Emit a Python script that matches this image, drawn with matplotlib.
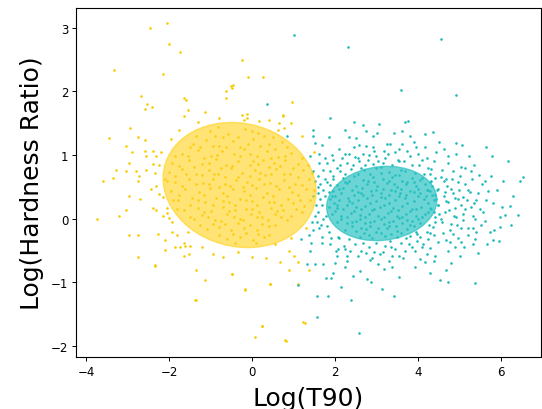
import numpy as np
import matplotlib.pyplot as plt
from matplotlib.patches import Ellipse

# (Log T90, Log hardness ratio)
short_pts = [
    # outliers / halo
    (-2.47, 3.00), (-2.06, 3.08), (-2.01, 2.74), (-1.73, 2.62), (-3.33, 2.34), (-2.14, 2.27),
    (-2.69, 1.93), (-2.54, 1.81), (-2.41, 1.76), (-2.58, 1.72), (-1.65, 1.90), (-1.59, 1.86),
    (-1.54, 1.71), (-1.65, 1.62), (-1.13, 1.68), (-0.79, 1.58), (-0.63, 2.01), (-0.50, 2.08),
    (-0.63, 1.90), (-2.94, 1.42), (-3.45, 1.27), (-2.75, 1.28), (-2.58, 1.23), (-3.04, 1.15),
    (-2.89, 1.05), (-2.59, 1.06), (-2.57, 0.99), (-2.39, 1.07), (-2.31, 0.98), (-2.96, 0.87),
    (-2.38, 0.86), (-3.29, 0.77), (-3.04, 0.75), (-2.81, 0.75), (-2.55, 0.76), (-2.33, 0.72),
    (-3.60, 0.59), (-2.72, 0.67), (-3.36, 0.64), (-3.73, 0.00), (-3.22, 0.04), (-3.04, 0.13),
    (-2.98, -0.25), (-2.75, -0.25), (-2.74, -0.60), (-2.34, -0.73), (-1.35, -1.27), (-0.17, -1.12),
    (0.07, -1.86), (0.24, -1.69), (0.43, -1.02), (-2.75, 0.59), (-2.97, 0.36), (-2.70, 0.31),
    (-2.43, 0.46), (-2.31, 0.51), (-2.25, 0.39), (-2.14, 0.34), (-2.38, 0.17), (-2.31, 0.14),
    (-2.06, 0.17), (-2.06, 0.09), (-2.01, 0.01), (-1.93, -0.05), (-2.27, -0.24), (-2.09, -0.33),
    (-1.94, -0.20), (-1.86, -0.44), (-1.73, -0.44), (-1.65, -0.38), (-1.62, -0.43), (-1.49, -0.43),
    (-2.10, -0.49), (-1.64, -0.59), (-1.53, -0.56), (-2.33, -0.74), (-1.35, -0.80), (-1.13, -0.96),
    (-1.37, -1.27), (-0.48, -0.86), (-0.33, -0.52), (-0.01, -0.60), (0.34, -0.61), (0.67, -0.68),
    (0.88, -0.50), (1.12, -0.68), (1.01, -0.58), (0.90, -0.80), (1.38, -0.80), (-0.49, -0.86),
    (-0.17, -1.11), (0.43, -1.03), (1.12, -1.02), (1.24, -1.62), (0.80, -1.91), (0.24, -1.68),
    (1.28, -1.64), (0.82, -1.92), (-0.25, 2.50), (-0.09, 2.23), (0.26, 2.22), (-0.45, 2.10),
    (-0.49, 2.06), (0.96, 1.84), (-0.25, 1.63), (-0.11, 1.65), (-0.11, 1.58), (0.17, 1.54),
    (0.74, 1.63), (0.66, 1.51), (0.77, 1.43), (0.63, 1.40), (0.75, 1.62),
    (-2.20, 1.05), (-2.10, 0.62), (-2.25, 0.85), (-1.95, 1.25), (-1.75, 1.40), (-1.30, 1.52),
    (-2.15, 0.05), (-1.80, -0.25), (-1.55, -0.20), (-1.20, -0.45), (-0.95, -0.55), (-0.70, -0.60),
    (0.55, -0.40), (0.95, -0.30), (1.30, -0.15), (1.50, 1.05), (1.20, 1.30), (0.95, 1.50),
    (0.40, 1.55), (-0.20, 1.55),
    # core
    (-1.02, 1.38), (-0.58, 1.33), (-0.17, 1.41), (0.28, 1.30), (-0.81, 1.44),
    (-1.43, 1.18), (-1.12, 1.24), (-0.79, 1.15), (-0.47, 1.22), (-0.28, 1.13), (0.03, 1.25),
    (0.41, 1.17), (0.72, 1.21), (-1.68, 1.02), (-1.31, 1.08), (-0.98, 0.99), (-0.73, 1.07),
    (-0.44, 1.01), (-0.19, 1.09), (0.12, 0.98), (0.36, 1.06), (0.63, 0.97), (0.94, 1.04),
    (-1.92, 0.88), (-1.53, 0.93), (-1.21, 0.86), (-0.88, 0.94), (-0.62, 0.85), (-0.33, 0.91),
    (-0.06, 0.84), (0.27, 0.93), (0.52, 0.87), (0.79, 0.92), (1.12, 0.86), (-2.01, 0.73),
    (-1.69, 0.78), (-1.36, 0.71), (-1.04, 0.77), (-0.82, 0.70), (-0.51, 0.79), (-0.24, 0.72),
    (0.06, 0.76), (0.31, 0.69), (0.58, 0.78), (0.91, 0.71), (1.24, 0.77), (-1.86, 0.58),
    (-1.52, 0.63), (-1.19, 0.56), (-0.94, 0.62), (-0.66, 0.55), (-0.38, 0.61), (-0.11, 0.57),
    (0.17, 0.63), (0.44, 0.56), (0.76, 0.61), (1.04, 0.55), (1.38, 0.62), (-1.96, 0.44),
    (-1.61, 0.47), (-1.28, 0.42), (-1.01, 0.48), (-0.71, 0.41), (-0.46, 0.46), (-0.19, 0.43),
    (0.09, 0.49), (0.37, 0.41), (0.66, 0.47), (0.96, 0.42), (1.31, 0.46), (-1.79, 0.29),
    (-1.46, 0.33), (-1.14, 0.27), (-0.86, 0.32), (-0.56, 0.26), (-0.29, 0.31), (0.01, 0.28),
    (0.26, 0.34), (0.54, 0.27), (0.86, 0.31), (1.16, 0.29), (-1.64, 0.14), (-1.31, 0.17),
    (-0.99, 0.12), (-0.71, 0.18), (-0.41, 0.13), (-0.14, 0.16), (0.16, 0.11), (0.46, 0.17),
    (0.74, 0.13), (1.06, 0.16), (-1.39, -0.01), (-1.06, 0.03), (-0.76, -0.03), (-0.44, 0.02),
    (-0.21, -0.02), (0.11, 0.03), (0.39, -0.02), (0.69, 0.02), (-1.09, -0.16), (-0.79, -0.13),
    (-0.51, -0.18), (-0.19, -0.14), (0.12, -0.17), (0.41, -0.12), (-0.61, -0.31), (-0.29, -0.28),
    (0.02, -0.33), (0.28, -0.29), (-0.90, 1.30), (-0.35, 1.28), (0.15, 1.35), (-1.25, 1.12),
    (-0.62, 1.12), (0.20, 1.15), (0.55, 1.10), (-1.55, 0.98), (-0.85, 1.00), (-0.05, 1.02),
    (0.80, 0.98), (-1.75, 0.83), (-1.05, 0.88), (-0.48, 0.83), (0.15, 0.86), (0.68, 0.83),
    (1.00, 0.80), (-1.85, 0.67), (-1.20, 0.68), (-0.65, 0.66), (-0.05, 0.67), (0.45, 0.70),
    (1.10, 0.66), (-1.70, 0.52), (-1.05, 0.54), (-0.52, 0.52), (0.00, 0.53), (0.58, 0.52),
    (1.20, 0.53), (-1.75, 0.37), (-1.15, 0.37), (-0.60, 0.36), (-0.05, 0.38), (0.50, 0.36),
    (1.10, 0.37), (-1.50, 0.22), (-0.95, 0.22), (-0.40, 0.21), (0.12, 0.22), (0.70, 0.22),
    (1.25, 0.20), (-1.20, 0.06), (-0.60, 0.07), (-0.02, 0.07), (0.55, 0.08), (0.95, 0.05),
    (-0.95, -0.08), (-0.35, -0.07), (0.25, -0.08), (-0.45, -0.24), (0.15, -0.24),
    (-1.35, 1.30), (-0.70, 1.28), (0.00, 1.38), (0.50, 1.28), (-1.50, 1.12), (-0.95, 1.15),
    (-0.10, 1.18), (0.85, 1.12), (-1.85, 0.98), (-1.15, 0.96), (-0.30, 0.98), (0.45, 0.95),
    (1.20, 0.95), (-2.05, 0.60), (-1.40, 0.82), (-0.75, 0.80), (0.02, 0.90), (0.40, 0.82),
    (1.35, 0.85), (-1.60, 0.70), (-0.92, 0.70), (-0.35, 0.66), (0.20, 0.72), (0.78, 0.70),
    (1.45, 0.72), (-1.35, 0.55), (-0.80, 0.50), (-0.22, 0.50), (0.30, 0.55), (0.90, 0.50),
    (1.50, 0.45), (-1.90, 0.30), (-1.30, 0.30), (-0.70, 0.28), (-0.15, 0.30), (0.40, 0.26),
    (1.00, 0.24), (1.40, 0.30), (-1.80, 0.15), (-1.15, 0.10), (-0.55, 0.12), (0.00, 0.15),
    (0.60, 0.12), (1.20, 0.10), (-1.50, 0.02), (-0.90, -0.02), (-0.30, 0.00), (0.25, 0.02),
    (0.85, -0.02), (-1.25, -0.10), (-0.65, -0.08), (-0.05, -0.10), (0.55, -0.10), (-0.80, -0.25),
    (-0.15, -0.22), (0.40, -0.25), (-0.40, -0.38), (0.10, -0.38),
]

long_pts = [
    # outliers / halo
    (1.02, 2.89), (2.32, 2.70), (0.35, 1.80), (0.85, 1.30), (1.88, 1.58), (2.46, 1.52),
    (2.67, 1.47), (3.06, 1.49), (1.46, 1.39), (1.46, 1.30), (1.52, 1.19), (1.70, 1.16),
    (1.86, 1.28), (2.24, 1.39), (2.34, 1.28), (2.52, 1.27), (2.76, 1.38), (2.91, 1.30),
    (3.02, 1.34), (2.59, 1.16), (2.75, 1.15), (2.91, 1.13), (1.41, 0.99), (1.62, 1.01),
    (1.92, 1.00), (2.24, 1.01), (2.34, 1.01), (2.48, 0.97), (2.67, 1.01), (2.83, 1.00),
    (2.94, 1.06), (3.18, 1.06), (3.28, 1.01), (1.62, 0.88), (1.80, 0.88), (2.12, 0.85),
    (2.28, 0.88), (2.43, 0.85), (2.59, 0.90), (2.72, 0.85), (2.92, 0.86), (3.04, 0.90),
    (3.16, 0.88), (1.48, 0.75), (1.60, 0.67), (1.72, 0.76), (1.88, 0.75), (1.96, 0.67),
    (2.12, 0.75), (2.24, 0.70), (4.55, 2.82), (3.59, 2.02), (4.93, 1.95), (3.77, 1.54),
    (3.70, 1.52), (3.43, 1.35), (3.61, 1.38), (3.82, 1.30), (4.17, 1.33), (4.37, 1.36),
    (3.91, 1.21), (4.51, 1.21), (4.93, 1.19), (5.07, 1.16), (5.64, 1.12), (3.33, 1.17),
    (3.54, 1.09), (3.73, 1.06), (4.17, 1.13), (4.01, 1.01), (4.10, 0.93), (4.39, 0.90),
    (4.73, 0.99), (4.91, 1.01), (5.24, 0.99), (5.78, 0.99), (6.18, 0.91), (3.53, 0.93),
    (3.67, 0.90), (3.85, 0.84), (4.25, 0.80), (4.72, 0.88), (5.04, 0.81), (5.13, 0.80),
    (5.36, 0.84), (4.59, 0.76), (4.85, 0.75), (5.28, 0.75), (5.61, 0.59), (5.76, 0.67),
    (6.46, 0.59), (6.54, 0.66), (4.29, 0.70), (4.09, 0.64), (4.41, 0.64), (4.69, 0.62),
    (5.01, 0.67), (5.70, 0.43), (5.25, 0.42), (5.41, 0.29), (5.09, 0.34), (5.82, 0.24),
    (6.02, 0.18), (6.22, 0.20), (6.42, 0.06), (6.11, 0.06), (5.98, 0.03), (5.58, 0.11),
    (5.63, -0.03), (5.98, -0.13), (5.84, -0.18), (5.73, -0.21), (5.82, -0.34), (5.33, 0.05),
    (5.37, -0.01), (5.20, -0.15), (5.33, -0.15), (5.37, -0.31), (5.33, -0.39), (5.05, -0.15),
    (5.05, -0.36), (4.85, -0.24), (4.89, -0.45), (4.77, -0.36), (5.01, -0.59), (5.45, -0.53),
    (4.69, -0.34), (4.49, -0.36), (4.29, -0.46), (4.41, -0.58), (4.21, -0.55), (4.17, -0.68),
    (4.39, -0.67), (4.80, -0.69), (4.05, -0.63), (3.93, -0.50), (3.69, -0.50), (3.54, -0.58),
    (3.37, -0.58), (3.30, -0.66), (3.78, -0.39), (4.09, -0.45), (4.69, -0.80), (4.53, -0.96),
    (4.72, -1.00), (5.39, -1.01), (3.43, -1.21), (3.35, -0.45), (4.41, 0.03), (4.57, 0.00),
    (4.65, 0.10), (4.81, -0.08), (4.49, 0.21), (4.73, 0.26), (4.89, 0.17), (4.93, 0.03),
    (4.97, 0.31), (5.13, 0.16), (4.65, 0.42), (4.81, 0.47), (4.49, 0.47), (4.41, 0.37),
    (4.33, 0.16), (4.37, -0.13), (4.21, -0.21), (4.05, -0.29), (3.97, -0.24), (4.96, 0.57),
    (4.64, 0.59), (4.29, 0.58), (1.56, -1.55), (2.59, -1.79), (1.57, -1.22), (1.84, -1.22),
    (1.78, -0.93), (1.90, -0.93), (2.15, -1.07), (2.39, -1.28), (2.44, -0.90), (2.78, -0.94),
    (2.88, -0.99), (3.13, -1.10), (1.52, -0.71), (1.72, -0.71), (2.00, -0.70), (2.24, -0.76),
    (2.28, -0.66), (1.32, -0.71), (1.40, -0.50), (1.42, -0.38), (1.68, -0.38), (1.88, -0.39),
    (2.02, -0.50), (2.08, -0.47), (2.24, -0.47), (2.36, -0.51), (2.62, -0.50), (2.75, -0.53),
    (2.94, -0.52), (2.84, -0.64), (3.05, -0.71), (3.17, -0.52), (3.18, -0.79), (1.48, -0.18),
    (1.62, -0.15), (1.57, -0.05), (1.86, -0.21), (2.08, -0.29), (1.17, -0.31), (1.38, -0.25),
    (1.72, 0.00), (1.59, 0.10), (1.54, 0.21), (1.64, 0.31), (1.59, 0.50), (1.72, 0.45),
    (1.80, 0.57), (1.88, 0.53), (1.53, 0.59), (1.12, -1.04),
    (4.35, 0.52), (4.45, 0.31), (4.52, 0.08), (4.58, -0.05), (4.62, 0.35), (4.70, 0.52),
    (4.75, 0.14), (4.78, -0.18), (4.85, 0.40), (4.88, 0.05), (4.95, -0.10), (5.00, 0.45),
    (5.05, 0.22), (5.10, -0.02), (5.15, 0.55), (5.18, 0.30), (5.22, -0.25), (5.28, 0.18),
    (5.30, 0.62), (5.45, 0.40), (5.50, 0.15), (5.52, -0.10), (5.55, 0.55), (5.65, 0.30),
    (5.68, -0.40), (5.90, 0.45), (5.95, -0.35), (6.05, 0.60), (6.25, -0.10), (6.30, 0.35),
    (4.40, -0.25), (4.46, 0.45), (4.55, 0.65), (4.60, -0.22), (4.68, 0.28), (4.72, -0.50),
    (4.82, 0.62), (4.90, 0.32), (4.98, -0.30), (5.08, 0.08), (5.12, -0.45), (5.20, 0.45),
    (5.35, 0.25), (5.40, -0.20), (5.48, 0.68),
    (1.95, 0.92), (2.05, 0.80), (2.18, 0.96), (2.38, 0.78), (2.55, 0.95), (2.62, 0.80),
    (2.80, 0.92), (2.98, 0.98), (3.10, 0.82), (3.22, 0.95), (3.38, 0.84), (3.45, 1.05),
    (3.55, 0.90), (3.68, 0.75), (3.80, 0.98), (3.92, 0.72), (4.02, 0.85), (4.15, 0.70),
    (4.22, 0.95), (4.32, 0.78), (3.95, 1.12), (3.62, 1.18), (3.25, 1.18), (2.45, 1.12),
    (2.10, 1.10), (1.75, 0.95), (4.45, 1.05), (4.62, 1.10),
    (1.65, 0.55), (1.70, 0.22), (1.75, 0.62), (1.78, 0.05), (1.82, -0.12), (1.68, -0.28),
    (1.90, -0.30), (1.60, 0.40), (1.95, 0.62), (1.85, 0.42), (1.48, 0.35), (1.52, 0.05),
    (1.45, -0.05), (1.66, -0.10), (1.76, 0.36),
    (2.10, -0.30), (2.22, -0.42), (2.35, -0.32), (2.48, -0.40), (2.55, -0.58), (2.68, -0.38),
    (2.82, -0.45), (2.98, -0.38), (3.08, -0.55), (3.22, -0.42), (3.32, -0.35), (3.45, -0.48),
    (3.60, -0.38), (3.65, -0.62), (3.72, -0.30), (3.85, -0.45), (3.98, -0.35), (4.12, -0.40),
    (4.25, -0.32), (2.30, -0.58), (2.05, -0.58), (2.90, -0.62), (3.38, -0.75), (3.92, -0.75),
    (1.95, -0.85), (2.60, -0.82), (4.30, -0.85), (3.55, -0.92),
    (4.25, 0.45), (4.32, 0.60), (4.38, 0.10), (4.42, -0.05), (4.28, -0.10), (4.35, 0.38),
    (4.48, 0.22), (4.30, -0.22),
    # core
    (2.70, 0.76), (3.00, 0.79), (3.30, 0.74), (3.60, 0.77), (2.85, 0.70), (3.45, 0.69),
    (2.20, 0.64), (2.45, 0.67), (2.68, 0.61), (2.92, 0.66), (3.15, 0.62), (3.38, 0.65),
    (3.62, 0.60), (3.85, 0.64), (4.05, 0.61), (2.05, 0.53), (2.30, 0.56), (2.52, 0.51),
    (2.78, 0.55), (3.02, 0.52), (3.25, 0.56), (3.50, 0.50), (3.72, 0.54), (3.95, 0.51),
    (4.18, 0.55), (1.95, 0.43), (2.15, 0.40), (2.40, 0.45), (2.62, 0.41), (2.88, 0.44),
    (3.10, 0.40), (3.35, 0.45), (3.58, 0.41), (3.80, 0.44), (4.05, 0.40), (4.30, 0.43),
    (1.88, 0.31), (2.10, 0.29), (2.32, 0.33), (2.55, 0.30), (2.78, 0.32), (3.00, 0.28),
    (3.22, 0.33), (3.45, 0.29), (3.68, 0.32), (3.90, 0.28), (4.15, 0.31), (4.38, 0.29),
    (1.85, 0.19), (2.05, 0.17), (2.28, 0.21), (2.50, 0.18), (2.72, 0.20), (2.95, 0.16),
    (3.18, 0.21), (3.40, 0.17), (3.62, 0.20), (3.85, 0.16), (4.08, 0.19), (4.30, 0.17),
    (1.92, 0.07), (2.15, 0.05), (2.38, 0.09), (2.60, 0.06), (2.82, 0.08), (3.05, 0.04),
    (3.28, 0.09), (3.50, 0.05), (3.72, 0.08), (3.95, 0.04), (4.18, 0.07), (2.05, -0.05),
    (2.28, -0.07), (2.50, -0.03), (2.72, -0.06), (2.95, -0.04), (3.18, -0.08), (3.40, -0.03),
    (3.62, -0.06), (3.85, -0.04), (4.05, -0.07), (2.25, -0.17), (2.50, -0.19), (2.75, -0.16),
    (3.00, -0.20), (3.25, -0.15), (3.50, -0.19), (3.75, -0.16), (3.95, -0.20), (2.60, -0.28),
    (2.90, -0.30), (3.20, -0.27), (3.50, -0.29), (2.35, 0.60), (2.80, 0.60), (3.30, 0.59),
    (3.75, 0.58), (2.20, 0.48), (2.65, 0.48), (3.15, 0.47), (3.60, 0.47), (4.00, 0.46),
    (2.00, 0.36), (2.45, 0.37), (2.90, 0.37), (3.30, 0.37), (3.72, 0.37), (4.20, 0.36),
    (1.98, 0.25), (2.40, 0.24), (2.85, 0.25), (3.30, 0.25), (3.75, 0.24), (4.25, 0.24),
    (2.00, 0.12), (2.45, 0.12), (2.90, 0.13), (3.35, 0.12), (3.80, 0.12), (4.25, 0.10),
    (2.15, 0.00), (2.60, 0.00), (3.10, -0.01), (3.55, 0.01), (4.00, 0.00), (2.40, -0.11),
    (2.85, -0.11), (3.30, -0.11), (3.80, -0.10), (2.70, -0.22), (3.10, -0.23), (3.60, -0.23),
    (2.55, 0.70), (3.10, 0.72), (3.55, 0.68), (2.25, 0.58), (2.95, 0.57), (3.42, 0.55),
    (3.90, 0.58), (2.10, 0.46), (2.55, 0.42), (3.00, 0.45), (3.45, 0.43), (3.90, 0.42),
    (4.22, 0.45), (1.92, 0.36), (2.35, 0.28), (2.68, 0.37), (3.12, 0.34), (3.55, 0.35),
    (4.00, 0.35), (2.20, 0.15), (2.62, 0.15), (3.08, 0.18), (3.52, 0.14), (3.95, 0.15),
    (2.05, 0.22), (2.28, 0.03), (2.72, 0.03), (3.18, 0.03), (3.62, 0.03), (4.10, 0.02),
    (2.40, -0.05), (2.85, -0.05), (3.30, -0.05), (3.75, -0.02), (2.62, -0.14), (3.05, -0.14),
    (3.48, -0.12), (3.90, -0.12), (2.82, -0.25), (3.35, -0.24), (3.82, -0.27),
]

# ellipse: centre, full width, full height, angle (deg)
short_ell = ((-0.30, 0.53), 3.70, 1.95, -4.5)
long_ell = ((3.13, 0.24), 2.66, 1.16, 3.0)

short_color = "#F7CC00"
long_color = "#1DB9B9"
short_fill = "#FFD21F"
long_fill = "#2CC2C2"

plt.rcParams["xtick.labelsize"] = 8.5
plt.rcParams["ytick.labelsize"] = 8.5

fig = plt.figure(figsize=(5.42, 4.10), dpi=100)
ax = fig.add_axes([0.140, 0.127, 0.858, 0.851])

s = np.array(short_pts)
l = np.array(long_pts)
ax.scatter(s[:, 0], s[:, 1], s=3.5, color=short_color, linewidths=0, zorder=2)
ax.scatter(l[:, 0], l[:, 1], s=3.5, color=long_color, linewidths=0, zorder=2)

ax.add_patch(Ellipse(short_ell[0], short_ell[1], short_ell[2], angle=short_ell[3],
                     facecolor=short_fill, edgecolor=short_fill, alpha=0.62, lw=1, zorder=3))
ax.add_patch(Ellipse(long_ell[0], long_ell[1], long_ell[2], angle=long_ell[3],
                     facecolor=long_fill, edgecolor=long_fill, alpha=0.7, lw=1, zorder=3))

ax.set_xlim(-4.25, 6.97)
ax.set_ylim(-2.17, 3.31)
ax.set_xticks([-4, -2, 0, 2, 4, 6])
ax.set_yticks([-2, -1, 0, 1, 2, 3])
ax.tick_params(length=3, width=0.7, pad=2.5)
for sp in ax.spines.values():
    sp.set_linewidth(0.8)

ax.set_xlabel("Log(T90)", fontsize=18, labelpad=6)
ax.set_ylabel("Log(Hardness Ratio)", fontsize=18, labelpad=5)

fig.savefig("out.png", dpi=100)
